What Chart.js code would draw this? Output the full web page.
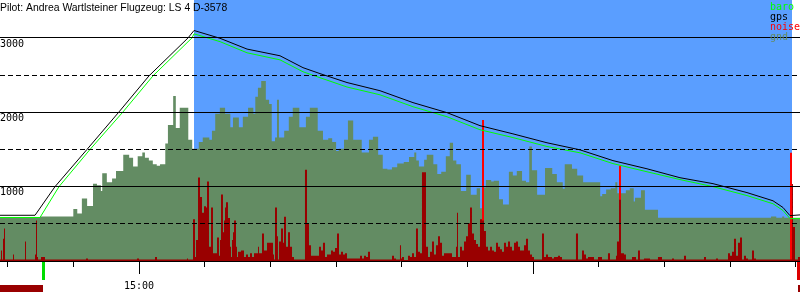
<!DOCTYPE html>
<html>
<head>
<meta charset="utf-8">
<script src="https://cdn.jsdelivr.net/npm/chart.js@4"></script>
<style>
  html, body { margin: 0; padding: 0; background: #fff; }
  #wrap { width: 800px; height: 300px; }
</style>
</head>
<body>
<div id="wrap"><canvas id="c"></canvas></div>
<script>
// all times are minutes after 14:00
const title = "Pilot: Andrea Wartlsteiner Flugzeug: LS 4 D-3578";
const axisStart = 38.84, axisEnd = 160.61;
const taskStart = 68.4, taskEnd = 159.4;
const takeoff = 45.45, landing = 160.38;
const hourTicks = [60, 120];

const xTickValues = [40, 50, 60, 70, 80, 90, 100, 110, 120, 130, 140, 150, 160];
const xTickLabels = { 60: "15:00" };
const yTickValues = [0, 500, 1000, 1500, 2000, 2500, 3000, 3500];
const yTickLabels = { 1000: "1000", 2000: "2000", 3000: "3000" };

const legendNames = ["baro", "gps", "noise", "gnd"];
const legendColors = ["#00ff00", "#000000", "#ff0000", "#638c63"];

const baroTime = [38.84, 44.93, 47.82, 52.54, 57.56, 62.13, 68.06, 68.37, 72.33, 76.44,
  81.46, 84.96, 87.55, 91.66, 96.68, 101.70, 106.88, 111.90, 116.92, 122.10,
  127.12, 132.14, 137.32, 142.34, 147.37, 152.54, 156.50, 158.02, 159.09, 160.61];
const baroAlt = [585, 585, 1000, 1500, 2005, 2490, 3000, 3055, 2950, 2800,
  2705, 2545, 2465, 2340, 2235, 2075, 1940, 1765, 1660, 1540,
  1455, 1310, 1200, 1095, 1000, 880, 770, 680, 570, 570];

const gpsTime = [38.84, 44.17, 47.21, 52.08, 56.95, 61.52, 67.46, 68.37, 72.33, 76.44,
  81.46, 84.96, 87.55, 91.66, 96.68, 101.70, 106.88, 111.90, 116.92, 122.10,
  127.12, 132.14, 137.32, 142.34, 147.37, 152.54, 156.50, 158.02, 159.09, 160.61];
const gpsAlt = [615, 615, 1000, 1500, 2005, 2490, 3000, 3100, 2995, 2850,
  2760, 2600, 2520, 2400, 2290, 2130, 1995, 1820, 1710, 1590,
  1495, 1350, 1240, 1120, 1040, 920, 810, 720, 610, 620];

const gndTime = [38.84, 44.93, 50.0, 50.6, 51.3, 52.1, 53.0, 53.6, 54.2, 54.4,
  55.1, 55.9, 56.5, 57.6, 58.5, 59.1, 59.8, 60.5, 60.9, 61.5,
  62.1, 62.7, 63.2, 64.0, 64.4, 65.2, 65.6, 66.2, 67.5, 68.1,
  69.1, 69.7, 70.7, 71.1, 71.6, 72.3, 73.1, 73.9, 74.3, 75.2,
  75.8, 76.6, 77.4, 77.7, 78.1, 78.6, 79.3, 79.8, 80.2, 80.7,
  81.0, 81.3, 82.1, 82.8, 83.4, 84.4, 85.4, 86.0, 87.2, 88.0,
  88.8, 89.4, 90.0, 90.4, 91.2, 91.8, 92.6, 93.9, 95.0, 95.6,
  96.4, 97.1, 97.8, 98.5, 99.3, 100.3, 101.1, 101.9, 102.2, 102.6,
  103.4, 103.8, 104.8, 105.4, 106.0, 106.7, 107.3, 107.8, 108.3, 109.0,
  109.8, 110.5, 111.4, 111.9, 112.2, 112.8, 113.6, 114.0, 114.8, 115.4,
  116.3, 116.9, 117.5, 118.3, 118.9, 119.4, 119.8, 120.6, 121.8, 122.9,
  123.6, 124.5, 124.8, 125.9, 126.7, 127.6, 130.2, 130.5, 131.1, 131.8,
  132.5, 132.8, 134.1, 134.7, 135.3, 135.5, 136.4, 137.0, 139.0, 156.2,
  157.0, 157.9, 158.2, 160.61];
const gndAlt = [580, 600, 700, 640, 840, 740, 1040, 1020, 940, 1180,
  1060, 1110, 1210, 1430, 1390, 1270, 1410, 1460, 1390, 1350,
  1300, 1280, 1300, 1580, 1830, 2220, 1790, 2060, 1630, 1510,
  1600, 1660, 1630, 1750, 1980, 2060, 1980, 1800, 1930, 1800,
  1940, 2060, 1980, 2210, 2330, 2420, 2170, 2110, 1610, 1660,
  2170, 1660, 1750, 1940, 2060, 1800, 1940, 2060, 1750, 1630,
  1650, 1600, 1480, 1510, 1630, 1890, 1630, 1460, 1630, 1670,
  1430, 1240, 1230, 1260, 1310, 1330, 1400, 1460, 1350, 1270,
  1360, 1430, 1300, 1170, 1200, 1410, 1590, 1350, 1300, 940,
  1160, 890, 980, 710, 990, 1090, 1070, 1080, 830, 760,
  1200, 1150, 1210, 1080, 1060, 1540, 1220, 890, 1250, 1170,
  1060, 970, 1300, 1240, 1150, 1060, 870, 900, 960, 980,
  1060, 910, 950, 980, 800, 850, 950, 690, 580, 600,
  580, 600, 580, 580];

const noiseTime = [38.84, 38.99, 39.14, 39.30, 39.45, 39.60, 40.82, 40.97, 42.65, 42.80,
  44.17, 44.32, 44.47, 44.62, 45.08, 45.69, 51.93, 52.23, 59.69, 60.00,
  62.43, 62.74, 67.30, 67.46, 68.22, 68.52, 68.67, 68.98, 69.28, 69.59,
  69.89, 70.20, 70.35, 70.65, 70.96, 71.26, 71.87, 72.17, 72.33, 72.48,
  72.78, 72.94, 73.09, 73.24, 73.54, 73.85, 74.00, 74.15, 74.31, 74.46,
  74.76, 74.91, 75.07, 75.52, 75.98, 76.28, 76.59, 76.89, 77.20, 77.50,
  78.11, 78.26, 78.72, 79.02, 79.48, 80.39, 80.55, 80.70, 81.00, 81.15,
  81.31, 81.61, 81.92, 82.07, 82.37, 82.68, 82.98, 83.29, 83.59, 85.26,
  85.57, 85.87, 86.18, 87.40, 87.70, 88.00, 88.31, 88.61, 89.22, 89.53,
  89.83, 90.14, 90.44, 90.74, 91.05, 91.35, 91.66, 93.64, 93.94, 94.24,
  94.55, 94.85, 95.16, 98.51, 98.81, 99.12, 99.72, 99.88, 100.03, 100.33,
  100.94, 101.25, 101.55, 101.86, 102.16, 102.46, 102.77, 103.07, 103.68, 103.99,
  104.29, 104.60, 104.90, 105.20, 105.51, 105.81, 106.12, 106.42, 107.33, 107.64,
  108.25, 108.40, 108.55, 108.86, 109.16, 109.47, 109.77, 110.07, 110.38, 110.68,
  110.99, 111.29, 111.60, 111.90, 112.21, 112.51, 112.81, 113.12, 113.42, 113.73,
  114.03, 114.34, 114.64, 114.95, 115.25, 115.55, 115.86, 116.16, 116.47, 116.77,
  117.08, 117.38, 117.69, 117.99, 118.60, 118.90, 119.21, 119.51, 119.82, 120.12,
  121.34, 121.64, 121.95, 122.25, 122.86, 123.16, 123.77, 124.08, 124.38, 126.51,
  126.82, 127.43, 127.73, 128.04, 128.34, 129.25, 129.86, 130.47, 131.38, 131.69,
  132.60, 132.75, 133.06, 133.36, 133.82, 134.12, 135.04, 135.65, 135.95, 136.25,
  136.86, 137.78, 138.99, 139.60, 141.13, 141.43, 142.95, 143.26, 146.00, 146.30,
  147.82, 148.13, 149.65, 149.95, 150.26, 150.56, 150.87, 151.17, 151.48, 151.78,
  152.08, 152.39, 152.69, 153.30, 153.61, 153.91, 159.39, 159.54, 159.85, 160.30,
  160.61];
const noiseLevel = [6, 40, 6, 85, 125, 6, 25, 6, 75, 6,
  25, 155, 15, 6, 15, 6, 10, 6, 10, 6,
  15, 6, 10, 6, 160, 15, 80, 320, 245, 185,
  210, 205, 305, 55, 205, 30, 90, 20, 80, 255,
  110, 155, 205, 225, 165, 55, 15, 80, 110, 155,
  55, 15, 35, 40, 15, 25, 15, 30, 15, 30,
  55, 30, 105, 40, 70, 25, 6, 205, 95, 6,
  75, 125, 70, 170, 55, 110, 55, 15, 6, 350,
  145, 60, 20, 55, 40, 70, 15, 25, 40, 35,
  50, 105, 25, 35, 25, 30, 10, 20, 10, 20,
  15, 35, 6, 20, 10, 6, 60, 10, 15, 4,
  20, 15, 30, 15, 125, 35, 30, 340, 55, 15,
  35, 75, 25, 60, 95, 70, 20, 30, 30, 15,
  55, 185, 15, 55, 40, 75, 95, 145, 205, 105,
  80, 65, 55, 160, 155, 115, 55, 40, 55, 40,
  35, 70, 55, 45, 35, 70, 55, 75, 55, 40,
  70, 75, 55, 40, 60, 85, 40, 25, 15, 6,
  105, 15, 25, 15, 10, 15, 20, 15, 6, 105,
  6, 40, 25, 10, 15, 6, 15, 6, 30, 6,
  20, 75, 235, 30, 25, 6, 15, 6, 40, 6,
  10, 6, 15, 6, 10, 6, 20, 6, 15, 6,
  10, 6, 30, 20, 35, 85, 20, 70, 90, 6,
  20, 10, 6, 40, 10, 6, 295, 130, 6, 15,
  15];

const spikeTime = [38.84, 112.21, 112.51, 133.06, 133.36, 159.09, 159.39, 160.61];
const spikeLevel = [0, 540, 0, 365, 0, 415, 0, 0];

const pts = (t, v) => t.map((x, i) => ({ x: x, y: v[i] }));
const monoFont = { family: '"DejaVu Sans Mono", monospace', size: 10 };

const flightDecor = {
  id: "flightDecor",
  beforeDraw(chart) {
    const { ctx, chartArea: a, scales } = chart;
    const x0 = Math.round(scales.x.getPixelForValue(taskStart));
    const x1 = Math.round(scales.x.getPixelForValue(taskEnd));
    ctx.save();
    ctx.fillStyle = "#5a9eff";
    ctx.fillRect(x0, a.top, x1 - x0, a.bottom - a.top);
    ctx.restore();
  },
  afterDraw(chart) {
    const { ctx, chartArea: a, scales } = chart;
    const x = scales.x;
    ctx.save();
    // longer ticks at full hours
    ctx.strokeStyle = "#000";
    ctx.lineWidth = 1;
    hourTicks.forEach(t => {
      const px = Math.round(x.getPixelForValue(t) - 0.5) + 0.5;
      ctx.beginPath();
      ctx.moveTo(px, a.bottom);
      ctx.lineTo(px, a.bottom + 13);
      ctx.stroke();
    });
    // takeoff / landing markers
    const pt = Math.round(x.getPixelForValue(takeoff));
    const pl = Math.round(x.getPixelForValue(landing));
    ctx.fillStyle = "#00dd00";
    ctx.fillRect(pt - 1, a.bottom + 1, 3, 18);
    ctx.fillStyle = "#dd0000";
    ctx.fillRect(pl - 1, a.bottom + 1, 3, 18);
    ctx.fillStyle = "#990000";
    ctx.fillRect(a.left, a.bottom + 24, pt - a.left, 7);
    ctx.fillRect(pl, a.bottom + 24, a.right - pl, 7);
    // title
    ctx.fillStyle = "#000";
    ctx.font = '10.4px "Liberation Sans", Arial, sans-serif';
    ctx.textAlign = "left";
    ctx.textBaseline = "alphabetic";
    ctx.fillText(title, 0, 11);
    // legend
    ctx.font = '10px "DejaVu Sans Mono", monospace';
    legendNames.forEach((name, i) => {
      ctx.fillStyle = legendColors[i];
      ctx.fillText(name, 770, 10 + i * 10);
    });
    ctx.restore();
  }
};

new Chart(document.getElementById("c"), {
  type: "line",
  data: {
    datasets: [
      { label: "baro", data: pts(baroTime, baroAlt), borderColor: legendColors[0], borderWidth: 1, order: 1, yAxisID: "y" },
      { label: "gps", data: pts(gpsTime, gpsAlt), borderColor: legendColors[1], borderWidth: 1, order: 2, yAxisID: "y" },
      { label: "noise", data: pts(noiseTime, noiseLevel), stepped: true, fill: "origin",
        backgroundColor: "#990000", borderColor: "rgba(0,0,0,0)", borderWidth: 0, order: 3, yAxisID: "yN" },
      { label: "noise peaks", data: pts(spikeTime, spikeLevel), stepped: true, fill: "origin",
        backgroundColor: legendColors[2], borderColor: "rgba(0,0,0,0)", borderWidth: 0, order: 4, yAxisID: "yN" },
      { label: "gnd", data: pts(gndTime, gndAlt), stepped: true, fill: "origin",
        backgroundColor: legendColors[3], borderColor: "rgba(0,0,0,0)", borderWidth: 0, order: 5, yAxisID: "y" }
    ]
  },
  options: {
    responsive: true,
    maintainAspectRatio: false,
    animation: false,
    events: [],
    layout: { autoPadding: false, padding: { left: 0, right: 0, top: 0, bottom: 8 } },
    elements: { point: { radius: 0 }, line: { tension: 0 } },
    plugins: { legend: { display: false }, tooltip: { enabled: false } },
    scales: {
      x: {
        type: "linear",
        bounds: "data",
        min: axisStart,
        max: axisEnd,
        afterBuildTicks: s => { s.ticks = xTickValues.map(v => ({ value: v })); },
        afterFit: s => { s.height = 31; s.paddingLeft = 0; s.paddingRight = 0; },
        ticks: {
          autoSkip: false, maxRotation: 0, padding: 13, color: "#000", font: monoFont,
          callback: v => xTickLabels[v] || ""
        },
        grid: { drawOnChartArea: false, color: "#000", tickLength: 6, lineWidth: 1 },
        border: { display: true, color: "#000", width: 1 }
      },
      y: {
        type: "linear",
        bounds: "data",
        min: 0,
        max: 3510,
        afterBuildTicks: s => { s.ticks = yTickValues.map(v => ({ value: v })); },
        afterFit: s => { s.width = 0; s.paddingTop = 0; s.paddingBottom = 0; },
        ticks: {
          mirror: true, padding: 0, labelOffset: 6, color: "#000", font: monoFont,
          callback: v => (v === 0 || v === 3500) ? null : (yTickLabels[v] || "")
        },
        grid: {
          z: 1, drawTicks: false, lineWidth: 1,
          color: c => (c.tick && (c.tick.value === 0 || c.tick.value === 3500)) ? "rgba(0,0,0,0)" : "#000"
        },
        border: { display: false, dash: c => (c.tick && c.tick.value % 1000) ? [5, 3] : [] }
      },
      yN: { type: "linear", display: false, min: 0, max: 1000 }
    }
  },
  plugins: [flightDecor]
});
</script>
</body>
</html>
